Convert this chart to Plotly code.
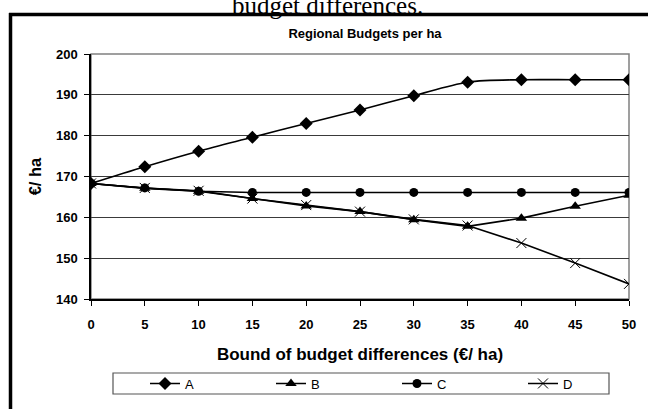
import plotly.graph_objects as go

# ---- data ----
bounds = [0, 5, 10, 15, 20, 25, 30, 35, 40, 45, 50]
series_A = [168.3, 172.4, 176.2, 179.6, 183.0, 186.3, 189.8, 193.1, 193.7, 193.7, 193.7]
series_B = [168.3, 167.1, 166.4, 164.6, 162.8, 161.4, 159.4, 157.8, 159.8, 162.7, 165.4]
series_C = [168.3, 167.2, 166.4, 166.1, 166.1, 166.1, 166.1, 166.1, 166.1, 166.1, 166.1]
series_D = [168.3, 167.2, 166.5, 164.6, 163.0, 161.4, 159.5, 158.0, 153.7, 148.8, 143.7]
y_ticks = [140, 150, 160, 170, 180, 190, 200]
x_ticks = bounds

W, H = 648, 409
L, R, T, B = 91, 629, 54, 299  # plot area in pixels


def fx(px):
    return (px - L) / (R - L)


def fy(py):
    return (B - py) / (B - T)


fig = go.Figure()

line_style = dict(color="black", width=1.6)
fig.add_trace(go.Scatter(x=bounds, y=series_A, name="A", mode="lines+markers",
                         line=dict(color="black", width=1.6, shape="spline", smoothing=0.9),
                         marker=dict(symbol="diamond", size=10, color="black")))
fig.add_trace(go.Scatter(x=bounds, y=series_B, name="B", mode="lines+markers",
                         line=line_style,
                         marker=dict(symbol="triangle-up", size=10, color="black")))
fig.add_trace(go.Scatter(x=bounds, y=series_C, name="C", mode="lines+markers",
                         line=line_style,
                         marker=dict(symbol="circle", size=9, color="black")))
fig.add_trace(go.Scatter(x=bounds, y=series_D, name="D", mode="lines+markers",
                         line=line_style,
                         marker=dict(symbol="x-thin", size=10, color="black",
                                     line=dict(color="black", width=1))))

font_family = "Liberation Sans, Arial, sans-serif"

shapes = [
    # plot area border (grey), drawn below axes
    dict(type="rect", xref="paper", yref="paper", x0=0, x1=1, y0=0, y1=1,
         line=dict(color="#808080", width=1.5), layer="below"),
    # outer chart frame (thick black, clipped on right & bottom)
    dict(type="line", xref="paper", yref="paper", x0=fx(9), x1=fx(660),
         y0=fy(14.5), y1=fy(14.5), line=dict(color="black", width=3.5)),
    dict(type="line", xref="paper", yref="paper", x0=fx(10.5), x1=fx(10.5),
         y0=fy(13), y1=fy(420), line=dict(color="black", width=3.5)),
    # legend box
    dict(type="rect", xref="paper", yref="paper", x0=fx(113), x1=fx(609),
         y0=fy(373), y1=fy(394), line=dict(color="#555555", width=1.2),
         fillcolor="rgba(0,0,0,0)"),
]

annotations = [
    dict(text="budget differences.", xref="paper", yref="paper",
         x=fx(327), y=fy(21), xanchor="center", yanchor="bottom",
         showarrow=False, font=dict(family="Liberation Serif, Times New Roman, serif",
                                    size=25, color="black")),
]

fig.update_layout(
    width=W, height=H,
    margin=dict(l=L, r=W - R, t=T, b=H - B, autoexpand=False),
    paper_bgcolor="white", plot_bgcolor="white",
    title=dict(text="Regional Budgets per ha", x=fx(365), xref="paper",
               y=1 - 33 / H, yref="container", xanchor="center", yanchor="middle",
               font=dict(family=font_family, size=13, color="black", weight="bold")),
    xaxis=dict(range=[0, 50], tickvals=x_ticks, ticktext=[str(v) for v in x_ticks],
               showgrid=False, zeroline=False,
               showline=True, linecolor="black", linewidth=1.5,
               ticks="outside", ticklen=5, tickcolor="black", tickwidth=1,
               ticklabelstandoff=8,
               tickfont=dict(family=font_family, size=13, color="black", weight="bold"),
               title=dict(text="Bound of budget differences (€/ ha)", standoff=17,
                          font=dict(family=font_family, size=17, color="black",
                                    weight="bold"))),
    yaxis=dict(range=[140, 200], tickvals=y_ticks,
               showgrid=True, gridcolor="#3a3a3a", gridwidth=1, zeroline=False,
               showline=True, linecolor="black", linewidth=1.5,
               ticks="outside", ticklen=5, tickcolor="black", tickwidth=1,
               ticklabelstandoff=4,
               tickfont=dict(family=font_family, size=13, color="black", weight="bold"),
               title=dict(text="€/ ha", standoff=10,
                          font=dict(family=font_family, size=16.5, color="black",
                                    weight="bold"))),
    showlegend=True,
    legend=dict(orientation="h", x=145 / W, y=1 - 383.5 / H, xanchor="left",
                yanchor="middle", xref="container", yref="container",
                entrywidth=81, entrywidthmode="pixels",
                font=dict(family=font_family, size=13, color="black"),
                bgcolor="rgba(0,0,0,0)", borderwidth=0, itemwidth=30,
                traceorder="normal"),
    shapes=shapes,
    annotations=annotations,
)

fig.write_html("out.html",
               config={"displayModeBar": False},
               post_script="document.body.style.margin='0px';"
                           "document.body.style.overflow='hidden';")
